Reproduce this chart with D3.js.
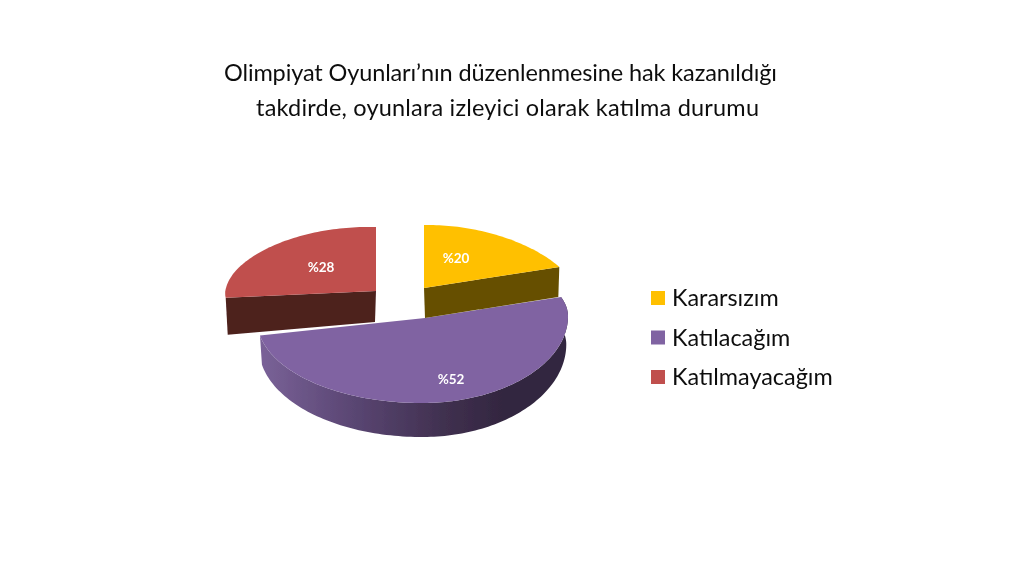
<!DOCTYPE html>
<html><head><meta charset="utf-8">
<script src="https://cdn.jsdelivr.net/npm/d3@7"></script>
<style>html,body{margin:0;background:#fff}svg{display:block}text{font-family:Lato,"Open Sans",sans-serif}</style>
</head><body><svg id="c" width="1024" height="574"></svg>
<script>
const categories=["Kararsızım","Katılacağım","Katılmayacağım"];
const values=[20,52,28];
const valueLabels=["%20","%52","%28"];
const titleLines=["Olimpiyat Oyunları’nın düzenlenmesine hak kazanıldığı","takdirde, oyunlara izleyici olarak katılma durumu"];
const topColors=["#FFC000","#8064A2","#C0504D"];
const sideColors=["#665000","#3A2C4E","#4D201F"];
// per-slice placement of the perspective pie (layout only)
const geometry=[
 {cx:424,cy:288,l:150,r:150,b:63,f:85,tilt:1.6,skew:-25,dNear:30,dFar:30,lab:[456,258]},
 {cx:425,cy:318,l:168,r:143,b:63,f:85,tilt:1.7,skew:0,dNear:28,dFar:34,lab:[451,379]},
 {cx:376,cy:291,l:150,r:143,b:64,f:52,tilt:-3,skew:16,dNear:31,dFar:37,lab:[321,267]}
];
const svg=d3.select("#c");
const defs=svg.append("defs");
const grad=defs.append("linearGradient").attr("id","sideGrad");
[[0,"#7A6298"],[.3,"#5A4673"],[.6,"#40304F"],[.8,"#32263F"],[1,"#32263F"]].forEach(s=>grad.append("stop").attr("offset",s[0]).attr("stop-color",s[1]));
defs.append("filter").attr("id","soft").append("feGaussianBlur").attr("stdDeviation",0.45);
const root=svg.append("g").attr("filter","url(#soft)");

const pie=d3.pie().sort(null).value(d=>d);
const arcs=pie(values);
const line=d3.line();
function projector(g){
  const sx=d3.scaleLinear().domain([-1,0,1]).range([-g.l,0,g.r]);
  const sy=d3.scaleLinear().domain([-1,0,1]).range([g.f,0,-g.b]);
  return a=>{const u=Math.sin(a),v=Math.cos(a);return [g.cx+sx(u)+g.skew*v*Math.abs(u),g.cy+sy(v)-g.tilt*u];};
}
function rim(a,p){
  const n=Math.ceil((a.endAngle-a.startAngle)*40);
  return d3.range(n+1).map(i=>a.startAngle+(a.endAngle-a.startAngle)*i/n).map(t=>[t,p(t)]);
}
const order=[1,0,2];
order.forEach(i=>{
  const a=arcs[i],g=geometry[i],p=projector(g);
  const pts=rim(a,p);
  const outer=pts.map(d=>d[1]);
  // outer wall for slices that face the viewer
  if(i===1){
    const drop=d=>{const v=Math.cos(d[0]);return g.dNear+(g.dFar-g.dNear)*Math.max(0,-v);};
    const lower=pts.map(d=>[d[1][0]-(d[1][0]-g.cx)*0.012,d[1][1]+drop(d)]);
    root.append("path").attr("d",line(outer.concat(lower.reverse()))+"Z").attr("fill","url(#sideGrad)");
  }else{
    // cut face: the straight edge that shows in front
    const e=i===0?outer[outer.length-1]:outer[0];
    const quad=[[g.cx,g.cy],e,[e[0]+(i===0?-1:2),e[1]+g.dFar],[g.cx+(i===0?1:-1),g.cy+g.dNear]];
    root.append("path").attr("d",line(quad)+"Z").attr("fill",sideColors[i]);
  }
  root.append("path").attr("d",line([[g.cx,g.cy]].concat(outer))+"Z").attr("fill",topColors[i]);
  root.append("text").attr("x",g.lab[0]).attr("y",g.lab[1]).attr("dy","0.35em").attr("text-anchor","middle")
    .attr("font-size",13.5).attr("font-weight",700).attr("fill","#fff").text(valueLabels[i]);
});
const t=root.append("g");
titleLines.forEach((s,i)=>t.append("text").attr("x",[500.5,507.5][i]).attr("y",[81,116][i]).attr("text-anchor","middle")
  .attr("font-size",23.5).attr("textLength",[553,503][i]).attr("lengthAdjust","spacing").attr("fill","#111").text(s));
const legendY=d3.scalePoint().domain(categories).range([298,377]);
const lg=root.append("g").selectAll("g").data(categories).join("g").attr("transform",d=>`translate(651,${legendY(d)})`);
lg.append("rect").attr("y",-7).attr("width",14).attr("height",14).attr("fill",(d,i)=>topColors[i]);
lg.append("text").attr("x",21).attr("y",8).attr("font-size",23.4).attr("fill","#111").text(d=>d);
</script></body></html>
